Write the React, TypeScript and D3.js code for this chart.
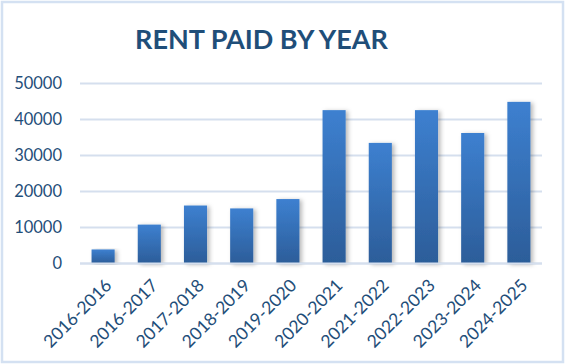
import React from 'react';
import * as d3 from 'd3';

const years = ['2016-2016', '2016-2017', '2017-2018', '2018-2019', '2019-2020', '2020-2021', '2021-2022', '2022-2023', '2023-2024', '2024-2025'];
const rent = [3900, 10800, 16100, 15300, 17900, 42600, 33500, 42600, 36250, 44900];
const yTicks = [0, 10000, 20000, 30000, 40000, 50000];

const App = () => {
    const width = 566, height = 364;
    const plot = { left: 80, right: 542, top: 83.5, bottom: 263.5 };
    const textColor = '#1F4E79';
    const gridColor = '#D5DFEE';

    const x = d3.scaleBand()
        .domain(years)
        .range([plot.left, plot.right])
        .paddingInner(0.5)
        .paddingOuter(0.25);

    const y = d3.scaleLinear()
        .domain([0, 50000])
        .range([plot.bottom, plot.top]);

    return (
        <svg width={width} height={height} style={{ position: 'absolute', left: 0, top: 0 }}>
            <defs>
                <linearGradient id="barGrad" x1="0" y1="0" x2="0" y2="1">
                    <stop offset="0%" stopColor="#3D80D0" />
                    <stop offset="100%" stopColor="#2C5D99" />
                </linearGradient>
                <filter id="shadow" x="-30%" y="-10%" width="160%" height="120%">
                    <feDropShadow dx="2.5" dy="1" stdDeviation="2" floodColor="#000" floodOpacity="0.28" />
                </filter>
            </defs>
            <rect x={0} y={0} width={width} height={height} fill="#fff" />
            <rect x={2} y={2} width={561} height={360} fill="#fff" stroke="#D4E1F2" strokeWidth={2.5} />

            <text x={261.5} y={49} textAnchor="middle" fontFamily="Lato" fontWeight="bold" fontSize={27} fill={textColor}>
                RENT PAID BY YEAR
            </text>

            {yTicks.map((t) => (
                <g key={t}>
                    <line x1={plot.left} x2={plot.right} y1={y(t)} y2={y(t)} stroke={gridColor} strokeWidth={2} />
                    <text x={62} y={y(t)} dy="0.36em" textAnchor="end" fontFamily="Lato" fontSize={16.5} fill={textColor}>
                        {t}
                    </text>
                </g>
            ))}

            {years.map((yr, i) => (
                <rect key={yr}
                    x={x(yr)}
                    y={y(rent[i])}
                    width={x.bandwidth()}
                    height={y(0) - y(rent[i])}
                    fill="url(#barGrad)"
                    filter="url(#shadow)" />
            ))}

            <line x1={plot.left} x2={plot.right} y1={y(0)} y2={y(0)} stroke={gridColor} strokeWidth={2} />

            {years.map((yr) => {
                const cx = (x(yr) as number) + x.bandwidth() / 2 + 1;
                const cy = 278;
                return (
                    <text key={yr}
                        transform={`translate(${cx},${cy}) rotate(-45)`}
                        textAnchor="end"
                        dy="0.7em"
                        fontFamily="Lato" fontSize={17.5} fill={textColor}>
                        {yr}
                    </text>
                );
            })}
        </svg>
    );
};

export default App;
